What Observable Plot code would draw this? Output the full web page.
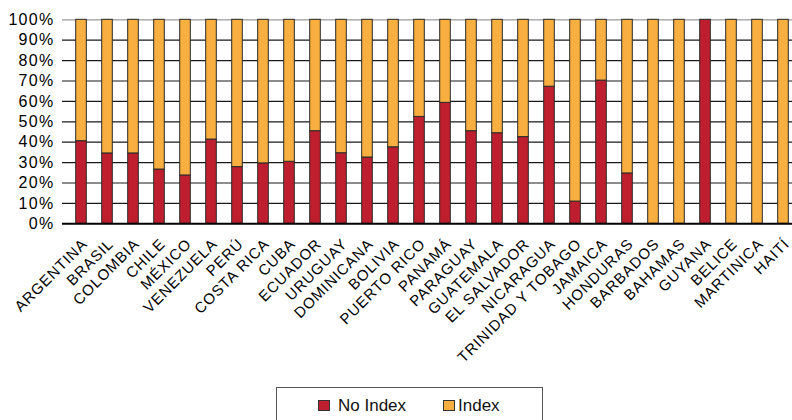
<!DOCTYPE html>
<html>
<head>
<meta charset="utf-8">
<script src="https://cdn.jsdelivr.net/npm/d3@7"></script>
<script src="https://cdn.jsdelivr.net/npm/@observablehq/plot@0.6"></script>
<style>
  html, body { margin: 0; padding: 0; background: #fff; overflow: hidden; width: 792px; height: 420px; }
  #wrap { position: relative; width: 792px; height: 420px; font-family: "Liberation Sans", Arial, Helvetica, sans-serif; }
  #chart svg g[aria-label="y-axis tick label"] text { letter-spacing: 1.3px; }
  #chart svg g[aria-label="text"] text { letter-spacing: 0.9px; }
  #legend { position: absolute; left: 276px; top: 387px; width: 267px; height: 60px; border: 1px solid #555; box-sizing: border-box; }
  .sw { position: absolute; width: 10px; height: 9px; border: 1px solid #333; }
  .lt { position: absolute; font-size: 17px; color: #111; line-height: 1; }
</style>
</head>
<body>
<div id="wrap">
  <div id="chart"></div>
  <div id="legend"></div>
</div>
<script>
const countries = ["ARGENTINA","BRASIL","COLOMBIA","CHILE","MÉXICO","VENEZUELA","PERÚ","COSTA RICA","CUBA","ECUADOR","URUGUAY","DOMINICANA","BOLIVIA","PUERTO RICO","PANAMÁ","PARAGUAY","GUATEMALA","EL SALVADOR","NICARAGUA","TRINIDAD Y TOBAGO","JAMAICA","HONDURAS","BARBADOS","BAHAMAS","GUYANA","BELICE","MARTINICA","HAITÍ"];
const noIndex = [40.5,34.5,34.5,26.6,23.7,41.3,27.8,29.6,30.4,45.4,34.6,32.5,37.5,52.4,59.3,45.4,44.4,42.5,67.2,10.9,70.2,24.7,0,0,100,0,0,0];
const indexShare = [59.5,65.5,65.5,73.4,76.3,58.7,72.2,70.4,69.6,54.6,65.4,67.5,62.5,47.6,40.7,54.6,55.6,57.5,32.8,89.1,29.8,75.3,100,100,0,100,100,100];
const seriesNames = ["No Index", "Index"];
const seriesColors = ["#BE1E2D", "#F9AF40"];
const yTicks = [0,10,20,30,40,50,60,70,80,90,100];

const rows = [];
countries.forEach((c, i) => rows.push({country: c, series: seriesNames[0], value: noIndex[i]}));
countries.forEach((c, i) => rows.push({country: c, series: seriesNames[1], value: indexShare[i]}));

const chart = Plot.plot({
  width: 792,
  height: 386,
  marginLeft: 62,
  marginRight: 0,
  marginTop: 19,
  marginBottom: 163,
  style: {fontFamily: '"Liberation Sans", Arial, Helvetica, sans-serif', fontSize: "16px", color: "#000", background: "#fff"},
  x: {domain: countries, range: [62.3, 801.2], padding: 0, axis: null},
  y: {domain: [0, 100], range: [223.3, 19.3], axis: null},
  color: {domain: seriesNames, range: seriesColors},
  marks: [
    Plot.ruleY(yTicks.filter(t => t > 0 && t < 100), {stroke: "#1a1a1a", strokeWidth: 1.2}),
    Plot.ruleY([100], {stroke: "#999", strokeWidth: 1.2}),
    Plot.barY(rows.filter(d => d.value > 0), Plot.stackY({
      x: "country", y: "value", fill: "series", order: null,
      stroke: "#2a2a2a", strokeWidth: 1, insetLeft: 7.7, insetRight: 7.7
    })),
    Plot.ruleY([0], {stroke: "#000", strokeWidth: 2}),
    Plot.axisY({ticks: yTicks, tickFormat: d => d + "%", tickSize: 0, tickPadding: 8, fontSize: 16, fill: "#000", label: null}),
    Plot.text(countries, {x: d => d, y: () => 0, text: d => d, rotate: -45, textAnchor: "end", dx: 3.4, dy: 17.7, fontSize: 15, fill: "#000"})
  ]
});
document.getElementById("chart").appendChild(chart);

const legend = document.getElementById("legend");
const items = [{left: 41, textLeft: 61}, {left: 166, textLeft: 181}];
seriesNames.forEach((name, i) => {
  const sw = document.createElement("div");
  sw.className = "sw";
  sw.style.background = seriesColors[i];
  sw.style.left = items[i].left + "px";
  sw.style.top = "12px";
  legend.appendChild(sw);
  const t = document.createElement("div");
  t.className = "lt";
  t.textContent = name;
  t.style.left = items[i].textLeft + "px";
  t.style.top = "9px";
  legend.appendChild(t);
});
</script>
</body>
</html>
